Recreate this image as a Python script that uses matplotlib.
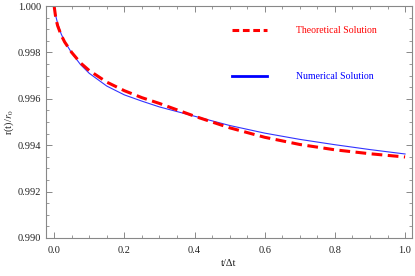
import numpy as np
import matplotlib
matplotlib.use("Agg")
import matplotlib.pyplot as plt
from matplotlib.lines import Line2D
from matplotlib.ticker import MultipleLocator, FormatStrFormatter

plt.rcParams['font.family'] = ['Liberation Serif', 'DejaVu Serif']
plt.rcParams['mathtext.fontset'] = 'stix'

# values
t = [0.0, 0.005, 0.01, 0.02, 0.03, 0.05, 0.075, 0.1, 0.15, 0.2, 0.25,
     0.3, 0.4, 0.5, 0.6, 0.7, 0.8, 0.9, 1.0]
r_theory = [1.0000, 0.99945, 0.99915, 0.99875, 0.99845, 0.99800, 0.99755,
            0.99722, 0.99672, 0.99635, 0.99605, 0.99580, 0.99525, 0.99475,
            0.99434, 0.99403, 0.99380, 0.99363, 0.99349]
r_numeric = [1.0000, 0.99955, 0.99925, 0.99880, 0.99847, 0.99798, 0.99748,
             0.99710, 0.99655, 0.99617, 0.99590, 0.99565, 0.99525, 0.99485,
             0.99452, 0.99425, 0.99402, 0.99381, 0.99362]

fig = plt.figure(figsize=(4.15, 2.76), dpi=100)
ax = fig.add_axes([0.111, 0.138, 0.882, 0.840])

ax.plot(t, r_numeric, color='#3333ff', lw=0.8)
ax.plot(t, r_theory, color='#ff0000', lw=2.2, dashes=(3.5, 1.8))

ax.set_xlim(-0.023, 1.02)
ax.set_ylim(0.990, 1.000)

ax.xaxis.set_major_locator(MultipleLocator(0.2))
ax.xaxis.set_minor_locator(MultipleLocator(0.05))
ax.yaxis.set_major_locator(MultipleLocator(0.002))
ax.yaxis.set_minor_locator(MultipleLocator(0.0005))
ax.xaxis.set_major_formatter(FormatStrFormatter('%.1f'))
ax.yaxis.set_major_formatter(FormatStrFormatter('%.3f'))

gray = '#888888'
for s in ax.spines.values():
    s.set_color(gray)
    s.set_linewidth(0.8)
ax.tick_params(which='both', direction='in', top=True, right=True,
               color=gray, labelsize=7.5, labelcolor='#222222')
ax.tick_params(which='major', length=4, width=0.7)
ax.tick_params(which='minor', length=2, width=0.6)
ax.tick_params(axis='x', pad=6)

ax.set_xlabel('t/Δt', fontsize=7.5, labelpad=3, color='#222222')
ax.set_ylabel(r'r(t)/$r_0$', fontsize=7.5, labelpad=1, color='#222222')

handles = [Line2D([], [], color='#ff0000', lw=2.2, dashes=(2.2, 1.2)),
           Line2D([], [], color='#0000ff', lw=2.0)]
ax.legend(handles, ['Theoretical Solution', 'Numerical Solution'],
          loc='upper left', bbox_to_anchor=(0.485, 0.95), frameon=False,
          fontsize=7, handlelength=3.6, handletextpad=2.9,
          labelspacing=3.8, labelcolor=['#ff0000', '#0000ff'])

fig.savefig('out.png', dpi=100)
